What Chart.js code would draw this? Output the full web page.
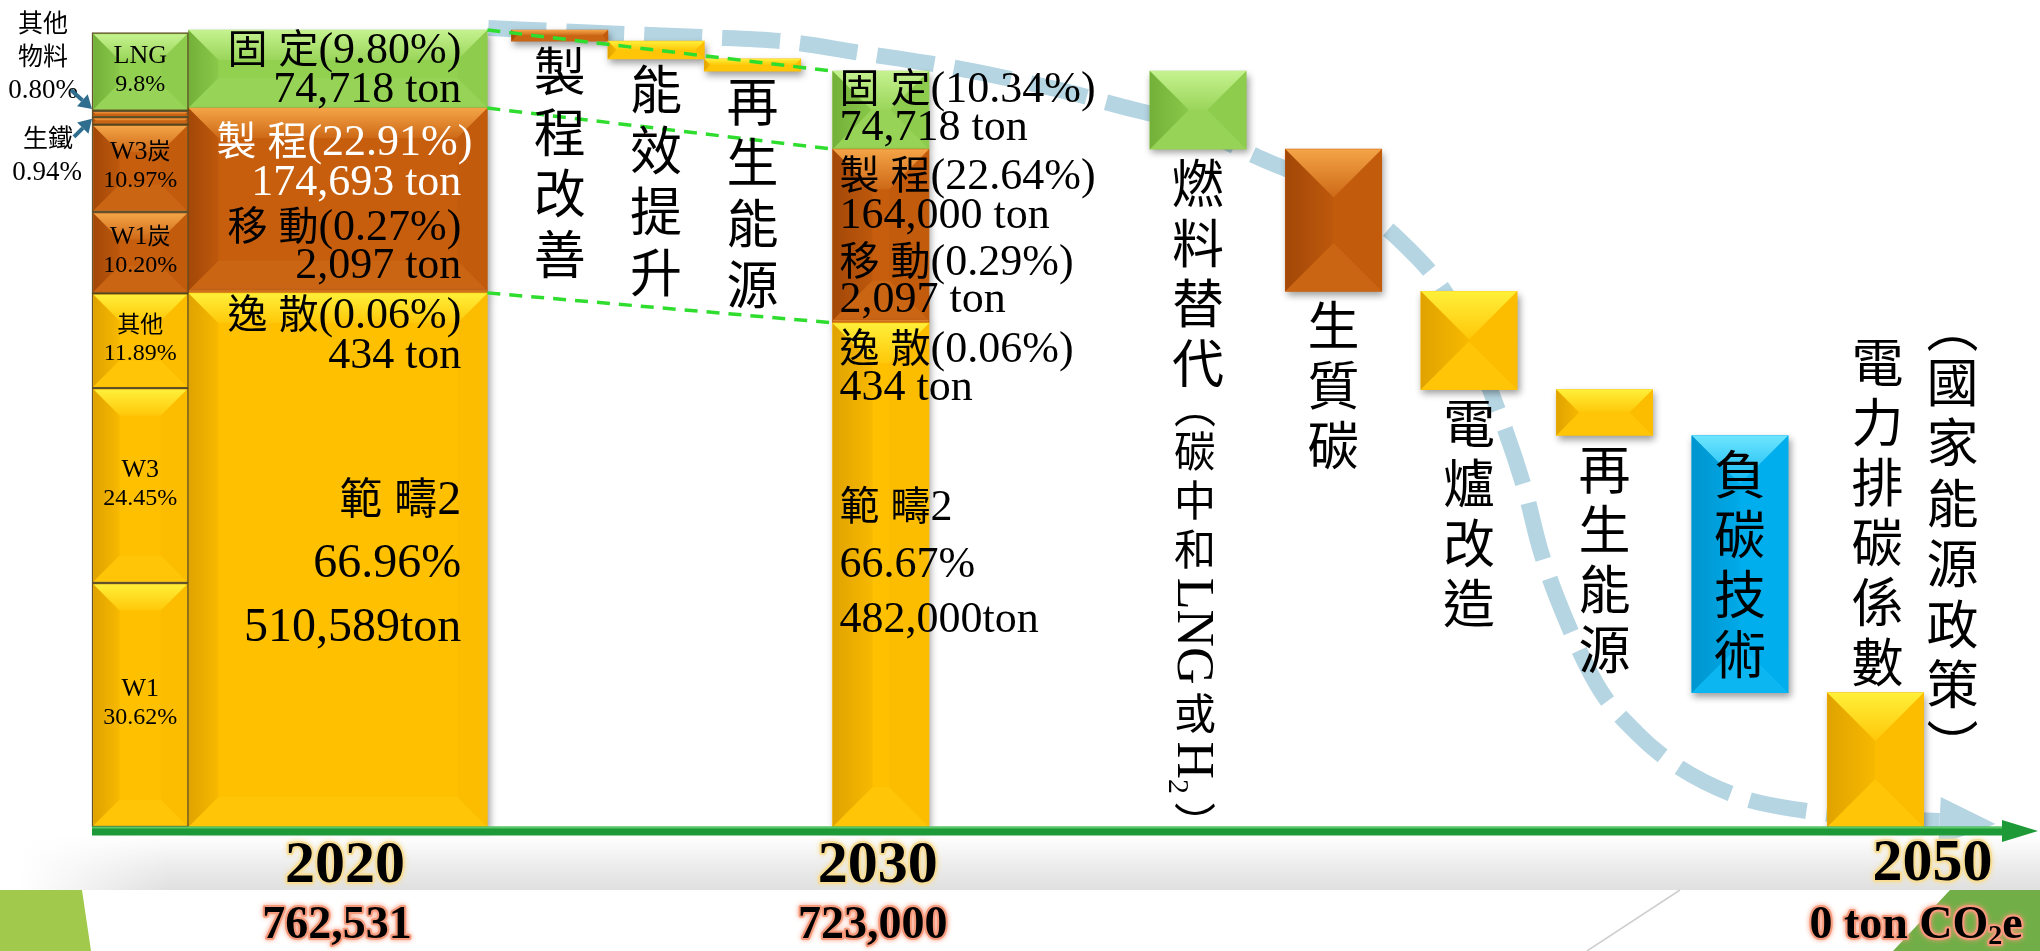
<!DOCTYPE html>
<html lang="zh-Hant">
<head>
<meta charset="utf-8">
<title>減碳路徑 2020–2050</title>
<script src="https://cdn.jsdelivr.net/npm/chart.js@4.4.1/dist/chart.umd.min.js"></script>
<style>
  html, body { margin: 0; padding: 0; background: #ffffff; }
  canvas { display: block; }
</style>
</head>
<body>
<canvas id="pathway" width="2040" height="951"></canvas>
<script>
// ---------------- data (t CO2e) ----------------
const yearLabels = ['2020', '2030', '2050'];
const yearTotals = ['762,531', '723,000', '0 ton CO₂e'];

// emission scopes, listed top to bottom of each stack
const scopeNames = ['固 定', '製 程', '移 動', '逸 散', '範 疇2'];
const scope2020 = [74718, 174693, 2097, 434, 510589];
const share2020 = ['9.80%', '22.91%', '0.27%', '0.06%', '66.96%'];
const scope2030 = [74718, 164000, 2097, 434, 482000];
const share2030 = ['10.34%', '22.64%', '0.29%', '0.06%', '66.67%'];

// 2020 emissions by source (% of the 2020 total), bottom to top
const sourceNames = ['W1', 'W3', '其他', 'W1炭', 'W3炭', '生鐵', '其他物料', 'LNG'];
const sourceShare = [30.62, 24.45, 11.89, 10.20, 10.97, 0.94, 0.80, 9.8];
const sourceShareText = ['30.62%', '24.45%', '11.89%', '10.20%', '10.97%', '0.94%', '0.80%', '9.8%'];

// reductions 2020 -> 2030
const stepNames2030 = ['製程改善', '能效提升', '再生能源'];
const steps2030 = [10693, 17000, 11589];

// reductions 2030 -> 2050
const stepNames2050 = ['燃料替代', '生質碳', '電爐改造', '再生能源', '負碳技術', '電力排碳係數'];
const steps2050 = [74718, 136000, 94000, 44000, 246000, 128531];
const stepNotes2050 = ['（碳中和LNG或H₂）', '', '', '', '', '（國家能源政策）'];

// trend arrow behind the bars (x in bar slots, y in t CO2e)
const trendX = [4.11, 5.27, 6.31, 7.24, 7.91, 8.90, 10.04, 10.66, 11.28, 12.11, 12.84, 13.56,
                14.08, 14.50, 14.86, 15.02, 15.33, 15.64, 16.02, 16.42, 17.09, 17.71, 18.54, 19.16];
const trendY = [764400, 759700, 755800, 751000, 741500, 727100, 705100, 689800, 674500, 640100, 609500, 561600,
                504200, 418100, 322400, 265000, 188500, 131100, 89900, 59300, 28700, 16300, 8600, 5700];

// ---------------- colours ----------------
const GREEN = '#92D050', ORANGE = '#C65E0E', GOLD = '#FFC000', BLUE = '#00B0F0';
const PAL = {
  [GREEN]:  { hi: '#C8F493', lo: '#6AA833' },
  [ORANGE]: { hi: '#F7A84A', lo: '#9A4206' },
  [GOLD]:   { hi: '#FFF23C', lo: '#D89B00' },
  [BLUE]:   { hi: '#74E8FF', lo: '#008EC6' },
};
const sourceColors = [GOLD, GOLD, GOLD, ORANGE, ORANGE, ORANGE, ORANGE, GREEN];
const scopeColors = [GREEN, ORANGE, ORANGE, GOLD, GOLD];
const step2030Colors = [ORANGE, GOLD, GOLD];
const step2050Colors = [GREEN, ORANGE, GOLD, GOLD, BLUE, GOLD];

// ---------------- layout ----------------
const W = 2040, H = 951;
const PAD = { left: 92, right: 4, top: 30, bottom: 124 };
const X_MAX = 20.16;                                   // plot width in bar slots
const SLOT = (W - PAD.left - PAD.right) / X_MAX;       // px per slot
const slot = {
  source: 0.5, y2020: 2.55, y2030: 8.18,
  steps2030: [4.85, 5.85, 6.85],
  steps2050: [11.47, 12.875, 14.28, 15.685, 17.09, 18.495],
};
const SERIF = '"Liberation Serif", "Noto Sans CJK TC", serif';
const CJK = '"Noto Sans CJK TC", "Noto Sans CJK SC", sans-serif';
const CJK_RATIO = 0.9;

// ---------------- helpers ----------------
const sum = a => a.reduce((s, v) => s + v, 0);
const fmt = v => v.toLocaleString('en-US');
function stackDown(values, top) {
  let acc = top;
  return values.map(v => { const r = [acc - v, acc]; acc -= v; return r; });
}
function stackUp(values, bottom = 0) {
  let acc = bottom;
  return values.map(v => { const r = [acc, acc + v]; acc += v; return r; });
}
function rgba(hex, a) {
  const n = parseInt(hex.slice(1), 16);
  return `rgba(${n >> 16},${(n >> 8) & 255},${n & 255},${a})`;
}
const CJK_RE = /[\u2e80-\u9fff\uf900-\ufaff\ufe30-\ufe4f\uff00-\uffef]/;
function runs(text) {
  const out = [];
  let cur = '', kind = null;
  for (const ch of text) {
    const c = CJK_RE.test(ch);
    if (kind === null || c === kind) cur += ch;
    else { out.push({ t: cur, cjk: kind }); cur = ch; }
    kind = c;
  }
  if (cur) out.push({ t: cur, cjk: kind });
  return out;
}
// mixed Latin / CJK single-line text
function rich(ctx, text, x, y, size, align = 'left', color = '#000', weight = '') {
  const parts = runs(text).map(p => {
    const font = `${weight} ${p.cjk ? Math.round(size * CJK_RATIO) : size}px ${p.cjk ? CJK : SERIF}`.trim();
    ctx.font = font;
    return { ...p, font, w: ctx.measureText(p.t).width };
  });
  const total = sum(parts.map(p => p.w));
  let cx = align === 'right' ? x - total : align === 'center' ? x - total / 2 : x;
  ctx.fillStyle = color; ctx.textAlign = 'left'; ctx.textBaseline = 'alphabetic';
  for (const p of parts) { ctx.font = p.font; ctx.fillText(p.t, cx, y); cx += p.w; }
  return total;
}
// vertical text: upright CJK, Latin runs turned clockwise
function vtext(ctx, text, x, y, step, cjkSize, latinSize = cjkSize) {
  let cur = y;
  ctx.fillStyle = '#000';
  for (const p of runs(text)) {
    if (p.cjk) {
      for (const ch of p.t) {
        const paren = ch === '（' || ch === '）';
        const glyph = ch === '（' ? '︵' : ch === '）' ? '︶' : ch;
        const adv = paren ? cjkSize * 0.75 : step;
        ctx.font = `${cjkSize}px ${CJK}`;
        ctx.textAlign = 'center'; ctx.textBaseline = 'middle';
        const shift = ch === '（' ? -cjkSize * 0.1 : ch === '）' ? cjkSize * 0.22 : 0;
        ctx.fillText(glyph, x, cur + adv / 2 + shift);
        cur += adv;
      }
    } else {
      ctx.save();
      ctx.translate(x, cur + 4);
      ctx.rotate(Math.PI / 2);
      ctx.textAlign = 'left'; ctx.textBaseline = 'alphabetic';
      let tx = 0;
      for (const ch of p.t) {
        if (ch === '₂') {
          ctx.font = `${Math.round(latinSize * 0.58)}px ${SERIF}`;
          ctx.fillText('2', tx, latinSize * 0.5);
          tx += ctx.measureText('2').width;
        } else {
          ctx.font = `${latinSize}px ${SERIF}`;
          ctx.fillText(ch, tx, latinSize * 0.33);
          tx += ctx.measureText(ch).width;
        }
      }
      ctx.restore();
      cur += tx + 8;
    }
  }
  return cur;
}
function box(el) {
  const p = el.getProps(['x', 'y', 'base', 'width'], true);
  return { l: p.x - p.width / 2, r: p.x + p.width / 2, t: Math.min(p.y, p.base), b: Math.max(p.y, p.base), cx: p.x, cy: (p.y + p.base) / 2 };
}
// pyramid bevel on a bar
function bevel(ctx, l, t, r, b, depth, base) {
  const pal = PAL[base];
  const w = r - l, h = b - t;
  if (!pal || w < 2 || h < 1.5) return;
  const d = Math.min(depth, w / 2, h / 2);
  const poly = (pts, fill) => {
    ctx.beginPath();
    pts.forEach(([x, y], k) => (k ? ctx.lineTo(x, y) : ctx.moveTo(x, y)));
    ctx.closePath(); ctx.fillStyle = fill; ctx.fill();
  };
  let g = ctx.createLinearGradient(0, t, 0, t + d);
  g.addColorStop(0, rgba(pal.hi, 0.95)); g.addColorStop(1, rgba(pal.hi, 0.15));
  poly([[l, t], [r, t], [r - d, t + d], [l + d, t + d]], g);
  g = ctx.createLinearGradient(l, 0, l + d, 0);
  g.addColorStop(0, rgba(pal.lo, 0.8)); g.addColorStop(1, rgba(pal.lo, 0.2));
  poly([[l, t], [l + d, t + d], [l + d, b - d], [l, b]], g);
  poly([[r, t], [r, b], [r - d, b - d], [r - d, t + d]], rgba(pal.lo, 0.08));
  poly([[l, b], [r, b], [r - d, b - d], [l + d, b - d]], rgba(pal.hi, 0.1));
}
function arrow(ctx, x0, y0, x1, y1, color) {
  const a = Math.atan2(y1 - y0, x1 - x0), hl = 13, hw = 8;
  const bx = x1 - hl * Math.cos(a), by = y1 - hl * Math.sin(a);
  ctx.strokeStyle = color; ctx.lineWidth = 4;
  ctx.beginPath(); ctx.moveTo(x0, y0); ctx.lineTo(bx, by); ctx.stroke();
  ctx.fillStyle = color; ctx.beginPath();
  ctx.moveTo(x1, y1);
  ctx.lineTo(bx - hw * Math.sin(a), by + hw * Math.cos(a));
  ctx.lineTo(bx + hw * Math.sin(a), by - hw * Math.cos(a));
  ctx.closePath(); ctx.fill();
}
function glowText(ctx, text, x, y, size, glow, align = 'center') {
  ctx.save();
  ctx.shadowColor = glow; ctx.shadowBlur = 5;
  ctx.strokeStyle = glow; ctx.lineWidth = 4; ctx.lineJoin = 'round';
  ctx.textBaseline = 'alphabetic';
  // build pieces so a subscript 2 can be lowered
  const pieces = [];
  for (const part of text.split('₂')) {
    if (pieces.length) pieces.push({ t: '2', s: Math.round(size * 0.6), dy: size * 0.14 });
    if (part) pieces.push({ t: part, s: size, dy: 0 });
  }
  pieces.forEach(p => { ctx.font = `bold ${p.s}px ${SERIF}`; p.w = ctx.measureText(p.t).width; });
  const total = sum(pieces.map(p => p.w));
  let cx = align === 'center' ? x - total / 2 : x;
  ctx.textAlign = 'left';
  const start = cx;
  pieces.forEach(p => { ctx.font = `bold ${p.s}px ${SERIF}`; ctx.strokeText(p.t, cx, y + p.dy); cx += p.w; });
  ctx.shadowBlur = 0; ctx.fillStyle = '#000'; cx = start;
  pieces.forEach(p => { ctx.font = `bold ${p.s}px ${SERIF}`; ctx.fillText(p.t, cx, y + p.dy); cx += p.w; });
  ctx.restore();
}

// ---------------- derived ranges ----------------
const total2020 = sum(scope2020);
const top2030 = sum(scope2030);
const sourceRanges = stackUp(sourceShare.map(p => p / 100 * total2020));
const scope2020Ranges = stackDown(scope2020, total2020);
const scope2030Ranges = stackDown(scope2030, top2030);
const step2030Ranges = stackDown(steps2030, total2020);
const step2050Ranges = stackDown(steps2050, top2030);

const barSet = (label, xs, ranges, colors, slots, extra = {}) => ({
  type: 'bar', label,
  data: ranges.map((r, i) => ({ x: Array.isArray(xs) ? xs[i] : xs, y: r })),
  backgroundColor: colors, barThickness: slots * SLOT, grouped: false,
  borderWidth: 0, borderSkipped: false, clip: false, order: 1, ...extra,
});

const datasets = [
  barSet('2020 排放源', slot.source, sourceRanges, sourceColors, 1,
         { borderWidth: 1.5, borderColor: 'rgba(72,54,8,0.85)', bevel: 26 }),
  barSet('2020', slot.y2020, scope2020Ranges, scopeColors, 3.1, { bevel: 30, shadow: true }),
  barSet('2020→2030', slot.steps2030, step2030Ranges, step2030Colors, 1, { bevel: 48, shadow: true }),
  barSet('2030', slot.y2030, scope2030Ranges, scopeColors, 1, { bevel: 40, shadow: true }),
  barSet('2030→2050', slot.steps2050, step2050Ranges, step2050Colors, 1, { bevel: 48, shadow: true }),
  {
    type: 'line', label: '減碳路徑',
    data: trendX.map((x, i) => ({ x, y: trendY[i] })),
    borderColor: '#B5D5E3', borderWidth: 16, borderDash: [58, 20], borderCapStyle: 'butt',
    pointRadius: 0, cubicInterpolationMode: 'monotone', capBezierPoints: false,
    fill: false, clip: false, order: 10, arrowHead: true,
  },
];

// ---------------- plugins ----------------
const backdrop = {
  id: 'backdrop',
  beforeDraw(chart) {
    const ctx = chart.ctx;
    const ya = chart.scales.y.getPixelForValue(0) + 4;
    ctx.save();
    ctx.fillStyle = '#fff'; ctx.fillRect(0, 0, W, H);
    // soft grey band under the time axis
    const g = ctx.createLinearGradient(0, ya + 5, 0, 890);
    g.addColorStop(0, '#ffffff'); g.addColorStop(0.55, '#ececec'); g.addColorStop(1, '#e0e0e0');
    ctx.fillStyle = g; ctx.fillRect(0, ya + 5, W, 890 - ya - 5);
    const fade = ctx.createLinearGradient(20, 0, 170, 0);
    fade.addColorStop(0, 'rgba(255,255,255,1)'); fade.addColorStop(1, 'rgba(255,255,255,0)');
    ctx.fillStyle = fade; ctx.fillRect(0, ya + 5, 170, 890 - ya - 5);
    // slide corner shapes
    ctx.fillStyle = '#A1C94B';
    ctx.beginPath(); ctx.moveTo(0, 890); ctx.lineTo(82, 890); ctx.lineTo(91, H); ctx.lineTo(0, H); ctx.closePath(); ctx.fill();
    ctx.fillStyle = '#72AE47';
    ctx.beginPath(); ctx.moveTo(1950, 890); ctx.lineTo(W, 890); ctx.lineTo(W, H); ctx.lineTo(1893, H); ctx.closePath(); ctx.fill();
    ctx.strokeStyle = '#cfcfcf'; ctx.lineWidth = 1.5;
    ctx.beginPath(); ctx.moveTo(1587, H); ctx.lineTo(1680, 890); ctx.stroke();
    ctx.restore();
  },
};

const barFx = {
  id: 'barFx',
  beforeDatasetDraw(chart, args) {
    const ds = chart.data.datasets[args.index];
    const ctx = chart.ctx;
    ctx.save();
    if (ds.shadow) {
      ctx.shadowColor = 'rgba(0,0,0,0.38)'; ctx.shadowBlur = 7;
      ctx.shadowOffsetX = 2; ctx.shadowOffsetY = 4;
    }
  },
  afterDatasetDraw(chart, args) {
    const ctx = chart.ctx;
    ctx.restore();
    const ds = chart.data.datasets[args.index];
    if (ds.bevel) {
      const inset = ds.borderWidth || 0;
      args.meta.data.forEach((el, i) => {
        const b = box(el);
        const color = Array.isArray(ds.backgroundColor) ? ds.backgroundColor[i] : ds.backgroundColor;
        bevel(ctx, b.l + inset, b.t + inset, b.r - inset, b.b - inset, ds.bevel, color);
      });
    }
    if (ds.arrowHead) {
      const pts = args.meta.data;
      const p1 = pts[pts.length - 2], p2 = pts[pts.length - 1];
      const a = Math.atan2(p2.y - p1.y, p2.x - p1.x);
      const len = 56, hw = 24;
      ctx.save();
      ctx.fillStyle = ds.borderColor;
      ctx.beginPath();
      ctx.moveTo(p2.x + len * Math.cos(a), p2.y + len * Math.sin(a));
      ctx.lineTo(p2.x - hw * Math.sin(a), p2.y + hw * Math.cos(a));
      ctx.lineTo(p2.x + hw * Math.sin(a), p2.y - hw * Math.cos(a));
      ctx.closePath(); ctx.fill();
      ctx.restore();
    }
  },
};

const annotate = {
  id: 'annotate',
  afterDatasetsDraw(chart) {
    const ctx = chart.ctx;
    const y = v => chart.scales.y.getPixelForValue(v);
    const area = chart.chartArea;
    const src = chart.getDatasetMeta(0).data.map(box);
    const s20 = chart.getDatasetMeta(1).data.map(box);
    const st30 = chart.getDatasetMeta(2).data.map(box);
    const s30 = chart.getDatasetMeta(3).data.map(box);
    const st50 = chart.getDatasetMeta(4).data.map(box);
    ctx.save();

    // dashed guides between the 2020 and 2030 stacks
    ctx.strokeStyle = '#2EDD2E'; ctx.lineWidth = 3.5; ctx.setLineDash([13, 9]);
    [[scope2020Ranges[0][1], scope2030Ranges[0][1]],
     [scope2020Ranges[0][0], scope2030Ranges[0][0]],
     [scope2020Ranges[2][0], scope2030Ranges[2][0]]].forEach(([a, b]) => {
      ctx.beginPath(); ctx.moveTo(s20[0].r, y(a)); ctx.lineTo(s30[0].l, y(b)); ctx.stroke();
    });
    ctx.setLineDash([]);

    // time axis with arrow
    const ya = y(0) + 4;
    ctx.fillStyle = '#1D9A37';
    ctx.fillRect(area.left, ya - 4.5, area.right - 30 - area.left, 9);
    ctx.fillStyle = 'rgba(110,215,120,0.75)';
    ctx.fillRect(area.left, ya - 4.5, area.right - 30 - area.left, 2);
    ctx.fillStyle = '#1D9A37';
    ctx.beginPath(); ctx.moveTo(area.right - 34, ya - 11); ctx.lineTo(area.right + 2, ya); ctx.lineTo(area.right - 34, ya + 11); ctx.closePath(); ctx.fill();

    // 2020 by-source bar
    [0, 1, 2, 3, 4, 7].forEach(i => {
      const b = src[i];
      rich(ctx, sourceNames[i], b.cx, b.cy - 9, 26, 'center');
      rich(ctx, sourceShareText[i], b.cx, b.cy + 19, 24, 'center');
    });
    const mat = src[6], iron = src[5];
    rich(ctx, '其他', 43, mat.cy - 82, 28, 'center');
    rich(ctx, '物料', 43, mat.cy - 49, 28, 'center');
    rich(ctx, sourceShareText[6], 43, mat.cy - 16, 27, 'center');
    rich(ctx, sourceNames[5], 48, iron.cy + 26, 28, 'center');
    rich(ctx, sourceShareText[5], 47, iron.cy + 59, 27, 'center');
    arrow(ctx, mat.l - 21, mat.cy - 24, mat.l, mat.cy - 5, '#2F6E8E');
    arrow(ctx, iron.l - 18, iron.cy + 16, iron.l, iron.cy - 2, '#2F6E8E');

    // 2020 scope bar
    const R = s20[0].r - 26;
    rich(ctx, `${scopeNames[0]}(${share2020[0]})`, R, s20[0].t + 33, 44, 'right');
    rich(ctx, `${fmt(scope2020[0])} ton`, R, s20[0].t + 72, 44, 'right');
    rich(ctx, `${scopeNames[1]}(${share2020[1]})`, R + 11, s20[1].t + 47, 44, 'right', '#fff');
    rich(ctx, `${fmt(scope2020[1])} ton`, R, s20[1].t + 87, 44, 'right', '#fff');
    rich(ctx, `${scopeNames[2]}(${share2020[2]})`, R, s20[1].t + 132, 44, 'right');
    rich(ctx, `${fmt(scope2020[2])} ton`, R, s20[1].t + 170, 44, 'right');
    rich(ctx, `${scopeNames[3]}(${share2020[3]})`, R, s20[4].t + 35, 44, 'right');
    rich(ctx, `${fmt(scope2020[3])} ton`, R, s20[4].t + 75, 44, 'right');
    rich(ctx, scopeNames[4], R, s20[4].cy - 46, 48, 'right');
    rich(ctx, share2020[4], R, s20[4].cy + 17, 48, 'right');
    rich(ctx, `${fmt(scope2020[4])}ton`, R, s20[4].cy + 81, 48, 'right');

    // 2030 scope bar
    const L = s30[0].l + 7;
    rich(ctx, `${scopeNames[0]}(${share2030[0]})`, L, s30[0].t + 31, 44);
    rich(ctx, `${fmt(scope2030[0])} ton`, L, s30[0].t + 69, 44);
    rich(ctx, `${scopeNames[1]}(${share2030[1]})`, L, s30[1].t + 40, 44);
    rich(ctx, `${fmt(scope2030[1])} ton`, L, s30[1].t + 79, 44);
    rich(ctx, `${scopeNames[2]}(${share2030[2]})`, L, s30[1].t + 126, 44);
    rich(ctx, `${fmt(scope2030[2])} ton`, L, s30[1].t + 163, 44);
    rich(ctx, `${scopeNames[3]}(${share2030[3]})`, L, s30[4].t + 39, 44);
    rich(ctx, `${fmt(scope2030[3])} ton`, L, s30[4].t + 77, 44);
    rich(ctx, scopeNames[4], L, s30[4].cy - 55, 44);
    rich(ctx, share2030[4], L, s30[4].cy + 2, 44);
    rich(ctx, `${fmt(scope2030[4])}ton`, L, s30[4].cy + 57, 44);

    // reduction steps 2020 -> 2030
    ctx.font = `52px ${CJK}`; ctx.fillStyle = '#000';
    ctx.textAlign = 'center'; ctx.textBaseline = 'middle';
    st30.forEach((b, i) => {
      [...stepNames2030[i]].forEach((ch, k) => ctx.fillText(ch, b.cx, b.b + 30 + k * 61));
    });

    // reduction steps 2030 -> 2050
    st50.forEach((b, i) => {
      const chars = [...stepNames2050[i]];
      ctx.font = `52px ${CJK}`; ctx.fillStyle = '#000';
      ctx.textAlign = 'center'; ctx.textBaseline = 'middle';
      if (i === 5) {
        chars.forEach((ch, k) => ctx.fillText(ch, b.cx + 2, b.t - 30 - (chars.length - 1 - k) * 60));
        vtext(ctx, stepNotes2050[i], b.cx + 77, b.t - 380, 60.5, 52);
      } else if (i === 4) {
        chars.forEach((ch, k) => ctx.fillText(ch, b.cx, b.cy - 90 + k * 60));
      } else {
        chars.forEach((ch, k) => ctx.fillText(ch, b.cx, b.b + 34 + k * 60));
        if (stepNotes2050[i]) {
          vtext(ctx, stepNotes2050[i], b.cx - 3, b.b + 34 + chars.length * 60 - 28, 49, 42, 52);
        }
      }
    });

    // years and totals
    glowText(ctx, yearLabels[0], s20[0].cx + 7, ya + 51, 60, '#F7DD95');
    glowText(ctx, yearLabels[1], s30[0].cx - 3, ya + 51, 60, '#F7DD95');
    glowText(ctx, yearLabels[2], st50[5].cx + 57, ya + 49, 60, '#F7DD95');
    glowText(ctx, yearTotals[0], s20[0].cx - 1, ya + 107, 46, '#F79A7C');
    glowText(ctx, yearTotals[1], s30[0].cx - 8, ya + 107, 46, '#F79A7C');
    glowText(ctx, yearTotals[2], st50[5].cx - 66, ya + 107, 46, '#F79A7C', 'left');
    ctx.restore();
  },
};

new Chart(document.getElementById('pathway'), {
  type: 'bar',
  data: { datasets },
  options: {
    responsive: false, animation: false, devicePixelRatio: 1, events: [],
    layout: { padding: PAD },
    plugins: { legend: { display: false }, tooltip: { enabled: false }, title: { display: false } },
    scales: {
      x: { type: 'linear', min: 0, max: X_MAX, display: false, offset: false },
      y: { type: 'linear', min: 0, max: total2020, display: false },
    },
  },
  plugins: [backdrop, barFx, annotate],
});
</script>
</body>
</html>
